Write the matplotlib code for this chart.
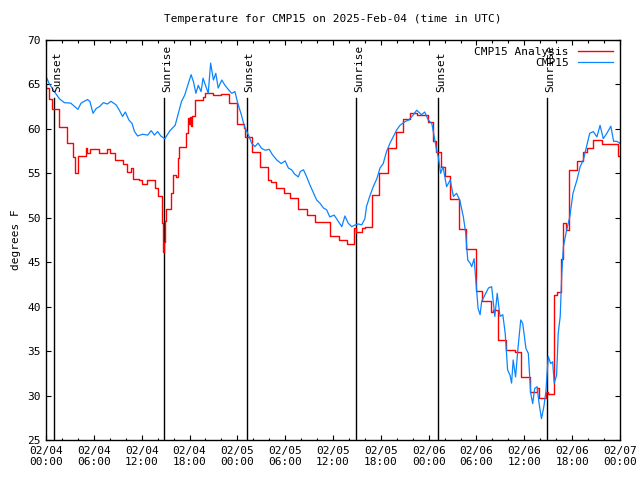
import numpy as np
import matplotlib
matplotlib.use('Agg')
import matplotlib.pyplot as plt

# hours since 2025-02-04 00:00 UTC
blue_hours = [0.0, 0.4, 1.04, 1.67, 2.3, 3.1, 4.0, 4.4, 4.8, 5.2, 5.5, 5.9, 6.3, 6.7, 7.2, 7.7,
              8.15, 8.8, 9.2, 9.6, 9.95, 10.4, 10.8, 11.1, 11.5, 12.1, 12.75, 13.2, 13.6, 14.0,
              14.4, 14.9, 15.55, 16.2, 16.6, 17.0, 17.4, 17.85, 18.2, 18.5, 18.8, 19.1, 19.45,
              19.7, 20.0, 20.35, 20.65, 21.0, 21.3, 21.6, 22.05, 22.45, 22.9, 23.3, 23.7, 24.05,
              24.5, 24.9, 25.4, 25.8, 26.2, 26.6, 27.05, 27.5, 28.0, 28.4, 28.95, 29.5, 30.0,
              30.4, 30.8, 31.2, 31.65, 31.9, 32.3, 32.7, 33.1, 33.5, 33.95, 34.4, 34.8, 35.2,
              35.6, 36.15, 36.7, 37.1, 37.5, 37.9, 38.35, 38.8, 39.2, 39.6, 40.0, 40.2, 40.6,
              41.05, 41.5, 41.9, 42.3, 42.7, 43.15, 43.55, 44.0, 44.4, 45.0, 45.5, 46.0, 46.5,
              47.1, 47.5, 47.95, 48.4, 48.7, 49.0, 49.2, 49.5, 49.8, 50.25, 50.7, 51.1, 51.5,
              51.9, 52.35, 52.65, 52.9, 53.2, 53.4, 53.7, 53.95, 54.2, 54.45, 54.65, 55.05,
              55.5, 55.9, 56.3, 56.6, 56.95, 57.3, 57.6, 57.9, 58.2, 58.4, 58.6, 58.9, 59.2,
              59.55, 59.8, 60.2, 60.5, 60.8, 61.05, 61.3, 61.6, 61.85, 62.15, 62.45, 62.7,
              63.0, 63.3, 63.55, 63.75, 64.05, 64.25, 64.5, 64.7, 64.9, 65.3, 65.7, 66.1, 66.6,
              67.0, 67.4, 67.8, 68.2, 68.65, 69.1, 69.5, 69.9, 70.35, 70.85, 71.2, 71.6, 71.95]
blue_temp = [65.9, 65.1, 64.2, 63.4, 62.95, 62.9, 62.2, 62.9, 63.1, 63.3, 63.1, 61.75, 62.3, 62.5,
             62.95, 62.8, 63.1, 62.7, 62.1, 61.4, 61.9, 61.0, 60.6, 59.7, 59.2, 59.4, 59.3, 59.8,
             59.3, 59.7, 59.2, 58.9, 59.8, 60.4, 61.75, 63.1, 63.8, 65.1, 66.1, 65.3, 64.0, 64.9,
             64.2, 65.7, 64.9, 64.0, 67.4, 65.5, 66.25, 64.6, 65.5, 64.9, 64.4, 64.0, 64.2, 62.9,
             61.6, 60.25, 59.3, 58.4, 58.0, 58.4, 57.8, 57.6, 57.7, 57.1, 56.5, 56.1, 56.4, 55.6,
             55.4, 54.9, 54.6, 55.2, 55.4, 54.6, 53.7, 52.9, 52.0, 51.6, 51.1, 50.9, 50.1, 50.3,
             49.55, 49.0, 50.2, 49.4, 49.0, 49.2, 49.3, 49.2, 49.9, 51.25, 52.4, 53.5, 54.4, 55.6,
             56.1, 57.4, 58.4, 59.1, 59.9, 60.4, 60.8, 61.0, 61.5, 62.1, 61.6, 61.9, 61.0, 60.6,
             59.1, 57.6, 56.9, 55.0, 55.75, 53.5, 54.25, 52.4, 52.75, 52.0, 50.1, 48.25, 45.25,
             44.9, 44.5, 45.4, 42.6, 39.8, 39.1, 40.6, 41.3, 42.1, 42.25, 38.9, 41.5, 38.9, 39.1,
             37.0, 32.9, 32.3, 31.4, 34.0, 32.1, 35.3, 38.5, 38.1, 35.3, 34.75, 30.25, 29.1, 30.8,
             31.0, 29.1, 27.4, 28.75, 30.4, 34.4, 33.6, 33.8, 31.4, 32.3, 37.0, 38.9, 43.75, 46.75,
             48.6, 50.1, 52.75, 54.25, 55.75, 56.5, 58.0, 59.5, 59.7, 59.1, 60.4, 58.9, 59.5,
             60.3, 58.6, 58.6, 58.4]

# analysis is a step series (value holds until next time)
red_hours = [0.0, 0.4, 0.75, 1.6, 2.6, 3.35, 3.7, 4.0, 4.2, 5.0, 5.2, 5.5, 6.6, 7.7, 8.0, 8.7,
             9.6, 10.1, 10.6, 10.9, 11.7, 12.0, 12.7, 13.7, 14.0, 14.6, 14.7, 14.8, 14.9, 15.05,
             15.65, 15.95, 16.3, 16.5, 16.7, 17.6, 17.8, 17.95, 18.1, 18.2, 18.3, 18.75, 19.7,
             20.0, 21.0, 21.9, 22.9, 24.0, 24.8, 25.0, 25.9, 26.9, 27.9, 28.2, 28.9, 29.9, 30.6,
             31.6, 32.7, 33.7, 35.6, 36.7, 37.7, 38.6, 38.9, 39.7, 40.0, 40.9, 41.8, 42.9, 43.9,
             44.8, 45.7, 46.5, 47.9, 48.5, 48.9, 49.5, 49.6, 50.0, 50.7, 51.8, 52.7, 53.95,
             54.65, 55.8, 56.1, 56.7, 57.7, 58.8, 59.6, 60.7, 61.6, 61.85, 62.75, 62.95, 63.7,
             64.1, 64.6, 64.9, 65.2, 65.6, 66.6, 67.4, 67.8, 68.65, 69.7, 71.8, 72.0]
red_temp = [64.6, 63.4, 62.2, 60.2, 58.4, 56.8, 55.0, 56.9, 57.0, 57.8, 57.3, 57.7, 57.25, 57.7,
            57.25, 56.5, 56.1, 55.2, 55.6, 54.4, 54.25, 53.8, 54.25, 53.3, 52.45, 49.4, 46.1,
            47.3, 49.6, 50.95, 52.75, 54.8, 54.6, 56.7, 58.0, 59.5, 61.2, 60.5, 61.3, 60.3,
            61.5, 63.25, 63.6, 64.0, 63.8, 63.9, 62.95, 60.6, 60.05, 59.1, 57.4, 55.7, 54.25,
            54.0, 53.3, 52.75, 52.2, 51.0, 50.3, 49.55, 47.9, 47.5, 47.05, 48.8, 48.4, 48.8,
            49.0, 52.6, 55.0, 57.9, 59.7, 61.1, 61.75, 61.55, 60.8, 58.6, 57.4, 56.7, 55.75,
            54.7, 52.1, 48.7, 46.5, 41.8, 40.6, 39.4, 39.6, 36.3, 35.1, 34.85, 32.1, 30.4, 30.8,
            29.7, 30.4, 30.2, 41.3, 41.7, 45.4, 49.4, 48.6, 55.4, 56.4, 57.4, 57.9, 58.8, 58.3,
            56.95, 56.95]

sun_hours = [1.05, 14.85, 25.15, 38.9, 49.2, 62.9]
sun_labels = ['Sunset', 'Sunrise', 'Sunset', 'Sunrise', 'Sunset', 'Sunrise']

tick_hours = [0, 6, 12, 18, 24, 30, 36, 42, 48, 54, 60, 66, 72]
tick_labels = ['02/04\n00:00', '02/04\n06:00', '02/04\n12:00', '02/04\n18:00',
               '02/05\n00:00', '02/05\n06:00', '02/05\n12:00', '02/05\n18:00',
               '02/06\n00:00', '02/06\n06:00', '02/06\n12:00', '02/06\n18:00',
               '02/07\n00:00']

plt.rcParams['font.family'] = ['DejaVu Sans Mono']
plt.rcParams['font.size'] = 8

fig = plt.figure(figsize=(6.4, 4.8), dpi=100)
ax = fig.add_axes([46/640, 40/480, 574/640, 400/480])

for h, lab in zip(sun_hours, sun_labels):
    ax.plot([h, h], [25, 63.45], color='black', lw=1.0)
    ax.text(h + 0.35, 64.1, lab, rotation=90, ha='center', va='bottom', fontsize=8)

ax.plot(red_hours, red_temp, drawstyle='steps-post', color='#ff0000', lw=1.0, label='CMP15 Analysis')
ax.plot(blue_hours, blue_temp, color='#0a84ff', lw=0.9, label='CMP15')

ax.set_xlim(0, 72)
ax.set_ylim(25, 70)
ax.set_xticks(tick_hours)
ax.set_xticklabels(tick_labels)
ax.set_xticks(np.arange(0, 73, 2), minor=True)
ax.set_yticks(np.arange(25, 71, 5))
ax.tick_params(which='both', direction='in', top=True, right=True, pad=4)
ax.tick_params(which='major', length=3.5, width=0.8)
ax.tick_params(which='minor', length=1.8, width=0.8)
for s in ax.spines.values():
    s.set_linewidth(1.0)

ax.set_ylabel('degrees F')
ax.set_title('Temperature for CMP15 on 2025-Feb-04 (time in UTC)', fontsize=8, pad=13)

leg = ax.legend(loc='upper right', frameon=False, markerfirst=False, handlelength=3.2,
                borderaxespad=0.2, labelspacing=0.1, handletextpad=0.8)
for t in leg.get_texts():
    t.set_ha('right')

fig.savefig('out.png', dpi=100)
